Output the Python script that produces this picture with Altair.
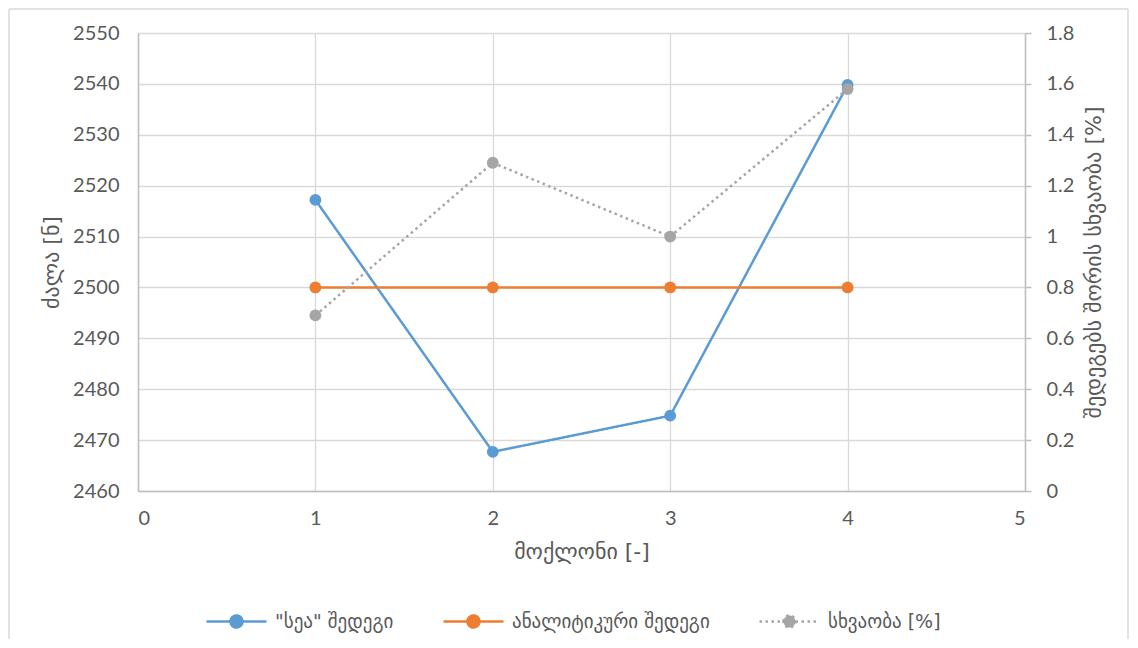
import altair as alt
import pandas as pd

# ---------------- data ----------------
x_vals = [1, 2, 3, 4]
sea_result = [2517.2, 2467.7, 2474.8, 2539.8]
analytic_result = [2500, 2500, 2500, 2500]
difference_pct = [0.69, 1.29, 1.00, 1.58]

series_names = ['"სეა" შედეგი', 'ანალიტიკური შედეგი', 'სხვაობა [%]']
series_colors = ['#5B9BD5', '#ED7D31', '#A5A5A5']
series_dashes = [[1, 0], [1, 0], [2.5, 3.5]]

x_ticks = [0, 1, 2, 3, 4, 5]
left_ticks = [2460, 2470, 2480, 2490, 2500, 2510, 2520, 2530, 2540, 2550]
right_ticks = [0, 0.2, 0.4, 0.6, 0.8, 1.0, 1.2, 1.4, 1.6, 1.8]

x_title = 'მოქლონი [-]'
left_title = 'ძალა [ნ]'
right_title = 'შედეგებს შორის სხვაობა [%]'

df_left = pd.DataFrame({
    'x': x_vals + x_vals,
    'value': sea_result + analytic_result,
    'series': [series_names[0]] * len(x_vals) + [series_names[1]] * len(x_vals),
})
df_right = pd.DataFrame({
    'x': x_vals,
    'value': difference_pct,
    'series': [series_names[2]] * len(x_vals),
})

NUM_FONT = "Lato, 'DejaVu Sans', sans-serif"
GEO_FONT = "'DejaVu Sans', sans-serif"
TEXT = '#595959'
W, H = 887, 458

color_scale = alt.Scale(domain=series_names, range=series_colors)
dash_scale = alt.Scale(domain=series_names, range=series_dashes)

legend_path = "M-3,0L3,0M-0.6,0A0.6,0.6,0,1,1,0.6,0A0.6,0.6,0,1,1,-0.6,0Z"
leg = alt.Legend(
    title=None, orient='none', direction='horizontal', legendX=87, legendY=577,
    padding=0, symbolType=legend_path, symbolSize=400, symbolStrokeWidth=2.5,
    labelOffset=27, columnPadding=44, gridAlign='none', labelLimit=400,
    labelFont=GEO_FONT, labelFontSize=19, labelColor=TEXT,
)

xenc = alt.X('x:Q', scale=alt.Scale(domain=[0, 5], nice=False),
             axis=alt.Axis(values=x_ticks, title=x_title, grid=True, ticks=False,
                           format='d', labelPadding=17, titlePadding=13))

yl = alt.Y('value:Q', scale=alt.Scale(domain=[2460, 2550], nice=False, zero=False),
           axis=alt.Axis(values=left_ticks, title=left_title, orient='left', grid=True,
                         ticks=False, labelPadding=19, titlePadding=9, format='d'))

yr = alt.Y('value:Q', scale=alt.Scale(domain=[0, 1.8], nice=False),
           axis=alt.Axis(values=right_ticks, title=right_title, orient='right', grid=False,
                         ticks=True, tickSize=6, tickColor='#BFBFBF', tickWidth=1.5,
                         labelPadding=15, titlePadding=10, titleAngle=270,
                         titleBaseline='top', format='~g'))


def layer_for(df, y):
    line = alt.Chart(df).mark_line(strokeWidth=2.5).encode(
        x=xenc, y=y,
        stroke=alt.Stroke('series:N', scale=color_scale, legend=leg),
        strokeDash=alt.StrokeDash('series:N', scale=dash_scale, legend=leg),
    )
    pts = alt.Chart(df).mark_circle(size=140, opacity=1).encode(
        x=xenc, y=y,
        fill=alt.Fill('series:N', scale=color_scale, legend=leg),
    )
    return alt.layer(line, pts)


left_layer = layer_for(df_left, yl)
right_layer = layer_for(df_right, yr)

frame_df = pd.DataFrame({'k': [0]})
frame_base = alt.Chart(frame_df).mark_rule(color='#D9D9D9', strokeWidth=1.5)
frame_left = frame_base.encode(x=alt.value(-129), y=alt.value(-24), y2=alt.value(606))
frame_top = frame_base.encode(x=alt.value(-129), x2=alt.value(990), y=alt.value(-24))
frame_right = frame_base.encode(x=alt.value(990), y=alt.value(-24), y2=alt.value(606))

chart = alt.layer(
    frame_left, frame_top, frame_right, left_layer, right_layer
).resolve_scale(
    y='independent'
).properties(
    width=W, height=H, padding=0, background='white'
).configure_view(
    stroke='transparent'
).configure_axis(
    labelFont=NUM_FONT, labelFontSize=20, labelColor=TEXT,
    titleFont=GEO_FONT, titleFontSize=22, titleColor=TEXT, titleFontWeight='normal',
    gridColor='#D9D9D9', gridWidth=1.3,
    domainColor='#BFBFBF', domainWidth=1.5,
)

chart.save("out.html", embed_options={"renderer": "svg", "actions": False})
